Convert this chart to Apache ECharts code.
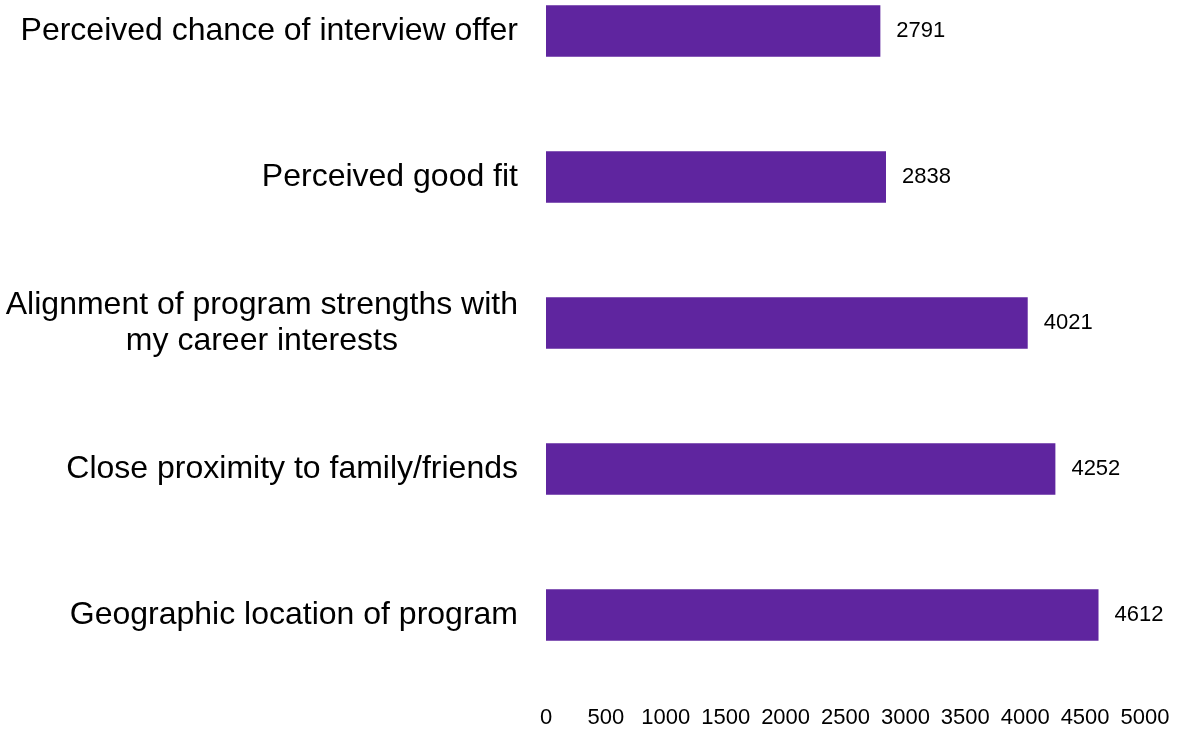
<!DOCTYPE html>
<html>
<head>
<meta charset="utf-8">
<script src="https://cdn.jsdelivr.net/npm/echarts@6/dist/echarts.min.js"></script>
<style>html,body{margin:0;padding:0;background:#fff}#main{width:1178px;height:735px}</style>
</head>
<body>
<div id="main"></div>
<script>
const categories = [
  "Perceived chance of interview offer",
  "Perceived good fit",
  "Alignment of program strengths with\nmy career interests",
  "Close proximity to family/friends",
  "Geographic location of program"
];
const values = [2791, 2838, 4021, 4252, 4612];
const xTicks = { min: 0, max: 5000, interval: 500 };

const chart = echarts.init(document.getElementById('main'), null, { renderer: 'canvas' });
chart.setOption({
  animation: false,
  backgroundColor: '#ffffff',
  textStyle: { fontFamily: 'Liberation Sans, Arial, sans-serif' },
  grid: { left: 546, right: 33, top: -42, bottom: 47, containLabel: false, outerBoundsMode: 'none' },
  xAxis: {
    type: 'value',
    min: xTicks.min, max: xTicks.max, interval: xTicks.interval,
    axisLine: { show: false }, axisTick: { show: false }, splitLine: { show: false },
    axisLabel: { fontSize: 22, color: '#000', margin: 19, fontFamily: 'Liberation Sans',
      formatter: function (v) { return String(v); } }
  },
  yAxis: {
    type: 'category',
    inverse: true,
    data: categories,
    axisLine: { show: false }, axisTick: { show: false }, splitLine: { show: false },
    axisLabel: {
      margin: 28,
      color: '#000',
      fontSize: 32,
      fontFamily: 'Liberation Sans',
      formatter: function (v) {
        return v.split('\n').map(function (s) { return '{c|' + s + '}'; }).join('\n');
      },
      rich: { c: { fontSize: 32, lineHeight: 36, align: 'center', color: '#000', fontFamily: 'Liberation Sans' } }
    }
  },
  series: [{
    type: 'bar',
    data: values,
    barWidth: '35.3%',
    itemStyle: { color: '#5f259f' },
    label: { show: true, position: 'right', distance: 16, fontSize: 22, color: '#000', fontFamily: 'Liberation Sans' }
  }]
});
</script>
</body>
</html>
